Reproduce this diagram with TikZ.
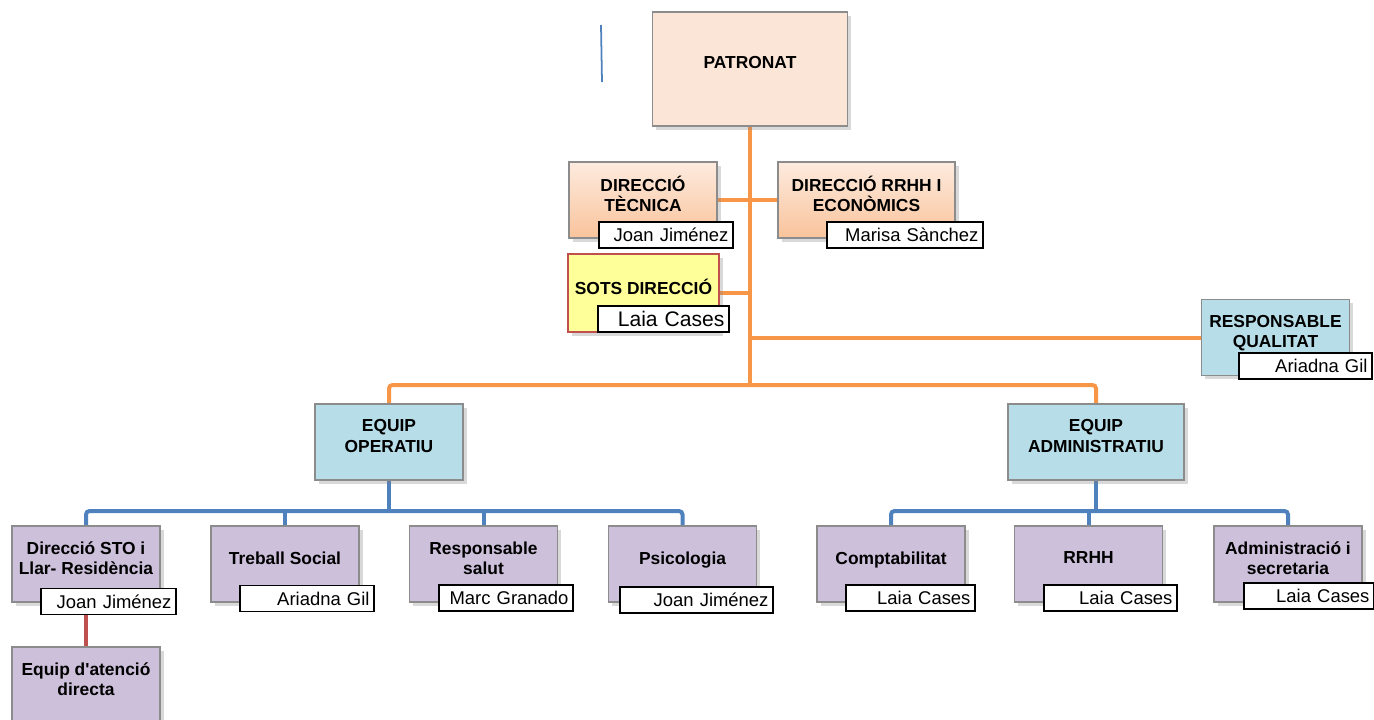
\documentclass[tikz,border=0pt]{standalone}
\usepackage{fontspec}
\setmainfont[Ligatures=TeXOff]{Liberation Sans}
\usetikzlibrary{shadows}

\definecolor{peach}{HTML}{FBE5D6}
\definecolor{peachtop}{HTML}{FDEBDF}
\definecolor{peachbot}{HTML}{F9C39B}
\definecolor{lemon}{HTML}{FFFF99}
\definecolor{sky}{HTML}{B7DEE8}
\definecolor{lilac}{HTML}{CCC0DA}
\definecolor{linorange}{HTML}{F79646}
\definecolor{linblue}{HTML}{4F81BD}
\definecolor{linred}{HTML}{C0504D}
\definecolor{edgegray}{HTML}{8C8C8C}

\pgfdeclarelayer{bg}
\pgfsetlayers{bg,main}

\tikzset{
  unit/.style={draw=edgegray, line width=0.6pt, align=center, text depth=7pt,
    minimum width=2.96cm, minimum height=1.52cm, inner sep=2pt,
    font=\fontsize{9.9}{11.5}\selectfont\bfseries,
    drop shadow={shadow xshift=2pt, shadow yshift=-2pt, opacity=0.3}},
  tag/.style={draw=black, line width=0.9pt, fill=white, inner xsep=2.5pt,
    inner ysep=0pt, minimum height=0.52cm, align=right,
    font=\fontsize{10.5}{12}\selectfont},
  orangeline/.style={draw=linorange, line width=0.08cm},
  blueline/.style={draw=linblue, line width=0.08cm},
  redline/.style={draw=linred, line width=0.08cm}
}

\begin{document}
\begin{tikzpicture}[x=0.02cm, y=-0.02cm]
  \useasboundingbox (0,0) rectangle (1374,720);

  \draw[linblue, line width=1pt] (601,25) -- (602,82);

  % top of the chart
  \node[unit, fill=peach, minimum width=3.9cm, minimum height=2.28cm] (patronat) at (750,69) {PATRONAT};
  \node[unit, top color=peachtop, bottom color=peachbot] (dirtec) at (643,200) {DIRECCIÓ\\TÈCNICA};
  \node[unit, top color=peachtop, bottom color=peachbot, minimum width=3.54cm] (dirrrhh) at (866.5,200) {DIRECCIÓ RRHH I\\ECONÒMICS};
  \node[unit, fill=lemon, draw=linred, minimum width=3.02cm, minimum height=1.56cm] (sots) at (643.5,293) {SOTS DIRECCIÓ};
  \node[unit, fill=sky] (qualitat) at (1275.5,337.5) {RESPONSABLE\\QUALITAT};

  % teams
  \node[unit, fill=sky] (operatiu) at (389,442) {EQUIP\\OPERATIU};
  \node[unit, fill=sky, minimum width=3.52cm] (administratiu) at (1096,442) {EQUIP\\ADMINISTRATIU};

  \foreach \nm/\x/\txt in {sto/86/{Direcció STO i\\Llar- Residència}, treball/285/{Treball Social},
      salut/483.5/{Responsable\\salut}, psico/682.5/{Psicologia}, compt/891/{Comptabilitat},
      rrhh/1088.5/{RRHH}, secret/1288/{Administració i\\secretaria}}{
    \node[unit, fill=lilac] (\nm) at (\x,564) {\txt};
  }
  \node[unit, fill=lilac] (atencio) at (86,685) {Equip d'atenció\\directa};

  % connectors
  \begin{pgfonlayer}{bg}
    \coordinate (tronc) at (750,385);
    \draw[orangeline] (patronat.south) -- (tronc);
    \draw[orangeline] (dirtec.east) -- (dirrrhh.west);
    \draw[orangeline] (sots.east) -- (sots.east -| tronc);
    \draw[orangeline] (qualitat.west) -- (qualitat.west -| tronc);
    \draw[orangeline, rounded corners=2pt] (operatiu.north) |- (tronc) -| (administratiu.north);

    \coordinate (opbus) at (389,511);
    \draw[blueline] (operatiu.south) -- (opbus);
    \draw[blueline, rounded corners=2pt] (sto.north) |- (opbus) -| (psico.north);
    \foreach \nm in {treball,salut}{
      \draw[blueline] (\nm.north) -- (\nm.north |- opbus);
    }
    \coordinate (adbus) at (1096,511);
    \draw[blueline] (administratiu.south) -- (adbus);
    \draw[blueline, rounded corners=2pt] (compt.north) |- (adbus) -| (secret.north);
    \draw[blueline] (rrhh.north) -- (rrhh.north |- adbus);

    \draw[redline] (sto.south) -- (atencio.north);
  \end{pgfonlayer}

  % names
  \node[tag, text width=2.50cm] (tectag) at (666,235) {Joan Jiménez};
  \node[tag, text width=2.94cm] (dirrrhhtag) at (905,235) {Marisa Sànchez};
  \node[tag, text width=2.44cm, font=\fontsize{12}{14}\selectfont] (sotstag) at (663.5,319) {Laia Cases};
  \node[tag, text width=2.48cm] (qualtag) at (1305.5,366) {Ariadna Gil};
  \node[tag, text width=2.52cm] (stotag) at (108.5,601.5) {Joan Jiménez};
  \node[tag, text width=2.50cm] (treballtag) at (307,598.5) {Ariadna Gil};
  \node[tag, text width=2.50cm] (saluttag) at (506,598) {Marc Granado};
  \node[tag, text width=2.88cm] (psicotag) at (696.5,600) {Joan Jiménez};
  \node[tag, text width=2.40cm] (compttag) at (910.5,598) {Laia Cases};
  \node[tag, text width=2.48cm] (rrhhtag) at (1110.5,598) {Laia Cases};
  \node[tag, text width=2.42cm] (secrettag) at (1309,596) {Laia Cases};
\end{tikzpicture}
\end{document}
